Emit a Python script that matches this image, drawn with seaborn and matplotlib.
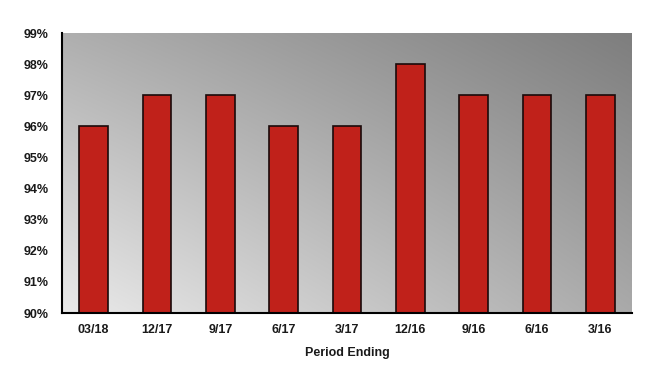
import numpy as np
import pandas as pd
import matplotlib
matplotlib.use("Agg")
import matplotlib.pyplot as plt
import seaborn as sns
from matplotlib.ticker import FuncFormatter

periods = ["03/18", "12/17", "9/17", "6/17", "3/17", "12/16", "9/16", "6/16", "3/16"]
values = [96, 97, 97, 96, 96, 98, 97, 97, 97]
y_ticks = list(range(90, 100))

sns.set_theme(style="white")
plt.rcParams['font.family'] = ['Liberation Sans', 'DejaVu Sans']

df = pd.DataFrame({"Period": periods, "Value": values})

fig = plt.figure(figsize=(6.65, 3.89), dpi=100)
ax = fig.add_axes([62/665, 1-313/389, (632-62)/665, (313-33)/389])

# gradient background
tl, tr, bl, br = 175, 126, 234, 170
xs = np.linspace(0, 1, 200)
ys = np.linspace(0, 1, 200)
X, Y = np.meshgrid(xs, ys)
G = (bl*(1-X)*(1-Y) + br*X*(1-Y) + tl*(1-X)*Y + tr*X*Y) / 255.0
img = np.dstack([G, G, G])
ax.imshow(img, extent=[0, 1, 0, 1], transform=ax.transAxes, origin='lower',
          aspect='auto', zorder=0, interpolation='bilinear')

sns.barplot(data=df, x="Period", y="Value", color="#c0211a", saturation=1,
            width=0.45, edgecolor="#1a0a0a", linewidth=1.2, ax=ax, zorder=2)

ax.set_xlim(-0.5, len(periods)-0.5)
ax.set_ylim(90, 99)
ax.set_yticks(y_ticks)
ax.yaxis.set_major_formatter(FuncFormatter(lambda v, p: f"{int(v)}%"))
ax.set_xlabel("Period Ending", fontsize=9, fontweight='bold', labelpad=8, color='#1a1a1a')
ax.set_ylabel("")
for lab in ax.get_xticklabels() + ax.get_yticklabels():
    lab.set_fontweight('bold')
    lab.set_fontsize(9)
    lab.set_color('#1a1a1a')
ax.tick_params(axis='y', length=0, pad=9.5)
ax.tick_params(axis='x', length=0, pad=8)
for s in ['top', 'right']:
    ax.spines[s].set_visible(False)
for s in ['left', 'bottom']:
    ax.spines[s].set_color('black')
    ax.spines[s].set_linewidth(1.5)
    ax.spines[s].set_zorder(3)
ax.grid(False)

fig.savefig("out.png", dpi=100)
